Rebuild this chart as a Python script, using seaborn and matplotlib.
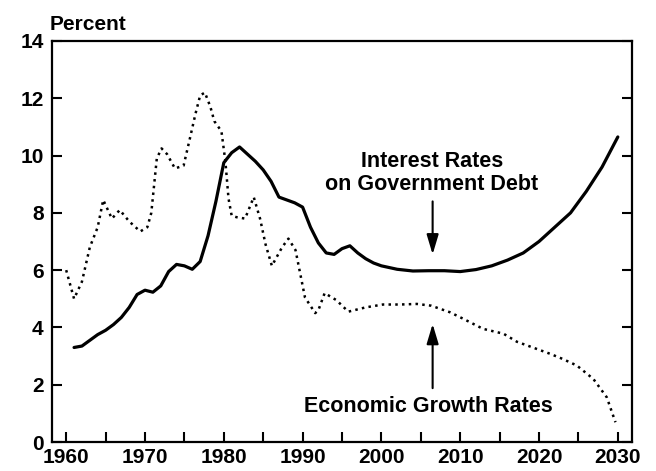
import matplotlib
matplotlib.use("Agg")
import matplotlib.pyplot as plt
import seaborn as sns
import numpy as np

# Interest rates on government debt (solid)
interest_years = [1961, 1962, 1963, 1964, 1965, 1966, 1967, 1968, 1969, 1970,
                  1971, 1972, 1973, 1974, 1975, 1976, 1977, 1978, 1979, 1980,
                  1981, 1982, 1983, 1984, 1985, 1986, 1987, 1988, 1989, 1990,
                  1991, 1992, 1993, 1994, 1995, 1996, 1997, 1998, 1999, 2000,
                  2002, 2004, 2006, 2008, 2010, 2012, 2014, 2016, 2018, 2020,
                  2022, 2024, 2026, 2028, 2030]
interest_rates = [3.3, 3.35, 3.55, 3.75, 3.9, 4.1, 4.35, 4.7, 5.15, 5.3,
                  5.23, 5.45, 5.95, 6.2, 6.15, 6.03, 6.3, 7.2, 8.4, 9.75,
                  10.1, 10.3, 10.05, 9.8, 9.5, 9.1, 8.55, 8.45, 8.35, 8.2,
                  7.5, 6.95, 6.6, 6.55, 6.75, 6.85, 6.6, 6.4, 6.25, 6.15,
                  6.03, 5.97, 5.98, 5.98, 5.95, 6.02, 6.15, 6.35, 6.6, 7.0,
                  7.5, 8.0, 8.75, 9.6, 10.65]

# Economic growth rates (dotted)
growth_years = [1960, 1961, 1962, 1963, 1964, 1964.7, 1965.8, 1966.8, 1968, 1969.4,
                1970.3, 1970.8, 1971.5, 1972.1, 1972.8, 1973.8, 1974.9, 1975.7, 1976.4, 1977.0,
                1977.6, 1978.3, 1978.8, 1979.7, 1980.2, 1980.6, 1981.0, 1981.6, 1982.7, 1983.8,
                1984.6, 1985.3, 1986.1, 1987.4, 1988.2, 1989.1, 1990.3, 1991.6, 1992.0, 1992.8,
                1994.3, 1995.8, 1998, 2000.2, 2002.4, 2004.5, 2006.3, 2008.7, 2010.4, 2012.9,
                2015.5, 2017.2, 2019.7, 2021.4, 2023, 2024.8, 2026.9, 2028.6, 2029.7]
growth_rates = [6.0, 5.0, 5.6, 6.8, 7.5, 8.45, 7.8, 8.1, 7.7, 7.35,
                7.5, 8.0, 9.9, 10.25, 10.05, 9.55, 9.65, 10.6, 11.45, 12.1,
                12.2, 11.7, 11.2, 10.85, 9.8, 8.5, 7.9, 7.85, 7.8, 8.55,
                7.8, 6.9, 6.15, 6.8, 7.1, 6.7, 5.05, 4.5, 4.6, 5.2,
                4.95, 4.55, 4.7, 4.8, 4.8, 4.82, 4.76, 4.53, 4.3, 3.95,
                3.78, 3.5, 3.25, 3.08, 2.9, 2.67, 2.2, 1.56, 0.69]

x_ticks = list(range(1960, 2031, 5))
x_labels = [str(y) if y % 10 == 0 else "" for y in x_ticks]
y_ticks = [0, 2, 4, 6, 8, 10, 12, 14]

sns.set_theme(style="white")
plt.rcParams['font.family'] = ['Liberation Sans', 'DejaVu Sans']
plt.rcParams['font.weight'] = 'bold'

fig = plt.figure(figsize=(6.56, 4.71), dpi=100)
ax = fig.add_axes([52/656, 1-442/471, (632-52)/656, (442-41)/471])

sns.lineplot(x=interest_years, y=interest_rates, ax=ax, color="black",
             linewidth=2.3, sort=False, solid_joinstyle='round')
sns.lineplot(x=growth_years, y=growth_rates, ax=ax, color="black",
             linewidth=1.8, linestyle=(0, (1, 1.7)), sort=False)

ax.set_xlim(1958.2, 2031.8)
ax.set_ylim(0, 14)
ax.set_xticks(x_ticks)
ax.set_xticklabels(x_labels)
ax.set_yticks(y_ticks)
ax.set_yticklabels([str(v) for v in y_ticks])
ax.tick_params(axis='both', direction='in', length=7, width=1.5, color='black',
               labelsize=15, labelcolor='black')
ax.tick_params(axis='x', pad=4)
ax.tick_params(axis='y', pad=6, right=True, left=True)
ax.tick_params(axis='x', bottom=True, top=False)
for lbl in ax.get_xticklabels() + ax.get_yticklabels():
    lbl.set_fontweight('bold')
for sp in ax.spines.values():
    sp.set_visible(True)
    sp.set_color('black')
    sp.set_linewidth(1.6)
ax.set_xlabel("")
ax.set_ylabel("")

# annotations
ax.text(2006.4, 9.8, "Interest Rates", ha='center', va='center',
        fontsize=15.5, fontweight='bold', color='black')
ax.text(2006.4, 8.98, "on Government Debt", ha='center', va='center',
        fontsize=15.5, fontweight='bold', color='black')
ax.annotate("", xy=(2006.5, 6.55), xytext=(2006.5, 8.4),
            arrowprops=dict(arrowstyle="-|>,head_width=0.3,head_length=1.0",
                            color='black', lw=1.5, shrinkA=0, shrinkB=0))
ax.annotate("", xy=(2006.5, 4.12), xytext=(2006.5, 1.88),
            arrowprops=dict(arrowstyle="-|>,head_width=0.3,head_length=1.0",
                            color='black', lw=1.5, shrinkA=0, shrinkB=0))
ax.text(2005.9, 1.25, "Economic Growth Rates", ha='center', va='center',
        fontsize=15.5, fontweight='bold', color='black')

fig.text(50/656, 1-25/471, "Percent", ha='left', va='center',
         fontsize=15, fontweight='bold', color='black')

fig.savefig("out.png", dpi=100, facecolor='white')
